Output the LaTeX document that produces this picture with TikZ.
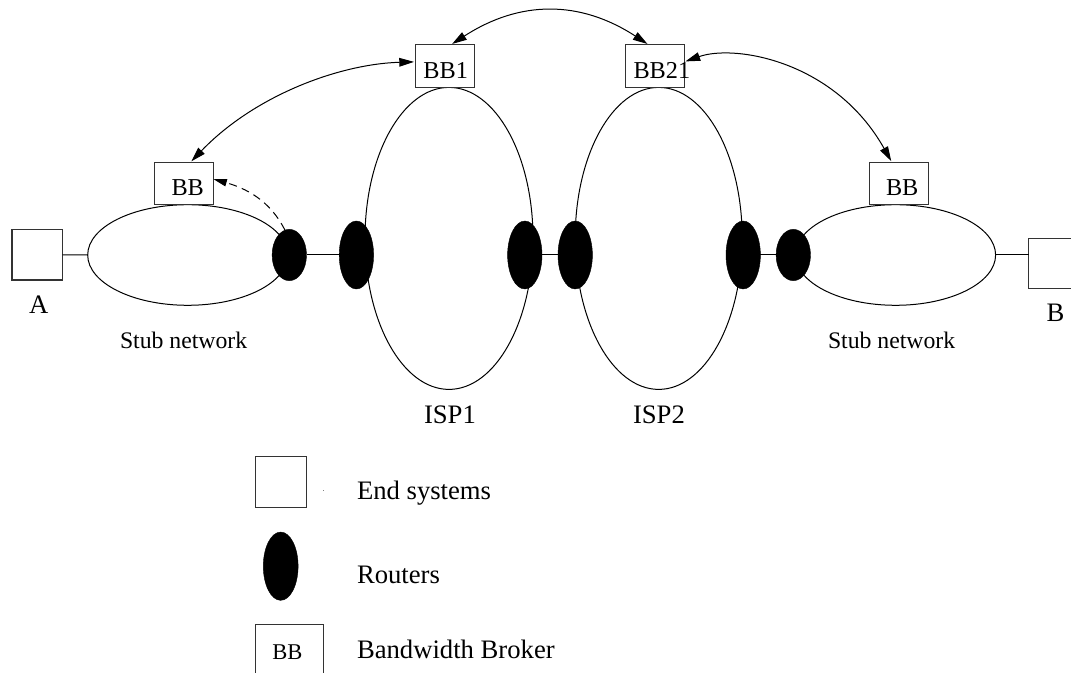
\documentclass[tikz,border=0pt]{standalone}
\usepackage{fontspec}
\setmainfont{Liberation Serif}
\usetikzlibrary{shapes.geometric,arrows.meta}
\tikzset{
  x=0.75pt,y=-0.75pt,
  every node/.style={inner sep=0pt,outer sep=0pt},
  wire/.style={line width=0.75pt,black},
  boxnode/.style={draw=black!80,line width=0.8pt,fill=white,rectangle},
  cloud/.style={draw=black,line width=0.75pt,ellipse},
  router/.style={fill=black,draw=black,line width=0.3pt,ellipse},
  lbl/.style={anchor=base west,font=\fontsize{20pt}{22pt}\selectfont},
  bbl/.style={anchor=base west,font=\fontsize{18.2pt}{20pt}\selectfont},
  stubl/.style={anchor=base west,font=\fontsize{17.8pt}{20pt}\selectfont},
  link/.style={wire,{Triangle[length=11pt,width=6.5pt]}-{Triangle[length=11pt,width=6.5pt]},shorten <=1pt,shorten >=1pt},
  signal/.style={wire,dashed,dash pattern=on 6pt off 4pt,-{Triangle[length=10pt,width=5.5pt]}},
}
\begin{document}
\begin{tikzpicture}
\useasboundingbox (0,0) rectangle (1071,673);
\clip (0,0) rectangle (1071,673);
% clouds
\node[cloud,minimum width=200*0.75pt,minimum height=100.6*0.75pt] (stubL) at (187.7,255) {};
\node[cloud,minimum width=200*0.75pt,minimum height=100.6*0.75pt] (stubR) at (895.6,255) {};
\node[cloud,minimum width=168*0.75pt,minimum height=302*0.75pt] (isp1) at (449,238.4) {};
\node[cloud,minimum width=167*0.75pt,minimum height=302*0.75pt] (isp2) at (658.7,238.4) {};
% routers
\node[router,minimum width=34.4*0.75pt,minimum height=51.4*0.75pt] (r1) at (289.3,255) {};
\node[router,minimum width=34.4*0.75pt,minimum height=68*0.75pt] (r2) at (356.4,255) {};
\node[router,minimum width=34.4*0.75pt,minimum height=68*0.75pt] (r3) at (524.8,255) {};
\node[router,minimum width=34.4*0.75pt,minimum height=68*0.75pt] (r4) at (575.2,255) {};
\node[router,minimum width=34.4*0.75pt,minimum height=68*0.75pt] (r5) at (743.2,255) {};
\node[router,minimum width=34.4*0.75pt,minimum height=51.4*0.75pt] (r6) at (793.3,255) {};
% boxes
\node[boxnode,minimum width=50.7*0.75pt,minimum height=50.5*0.75pt] (A) at (37.35,254.75) {};
\node[boxnode,minimum width=56*0.75pt,minimum height=50.4*0.75pt] (B) at (1056.6,263.5) {};
\node[boxnode,minimum width=59*0.75pt,minimum height=42*0.75pt] (bbL) at (184,183.3) {};
\node[boxnode,minimum width=59*0.75pt,minimum height=42*0.75pt] (bbR) at (898.7,183.3) {};
\node[boxnode,minimum width=59.2*0.75pt,minimum height=42.6*0.75pt] (bb1) at (444.9,66) {};
\node[boxnode,minimum width=59*0.75pt,minimum height=42.6*0.75pt] (bb21) at (654.7,66) {};
% straight connectors
\draw[wire] (A.east) -- (stubL.west);
\draw[wire] (r1.east) -- (r2.west);
\draw[wire] (r3.east) -- (r4.west);
\draw[wire] (r5.east) -- (r6.west);
\draw[wire] (stubR.east) -- (B.west |- stubR.east);
% curved connectors
\draw[link] (bb1.74) .. controls (520,0) and (580,0) .. (bb21.106);
\draw[link] (bb1.172) .. controls (340,64) and (255,95) .. (bbL.73);
\draw[link] (bb21.8) .. controls (735,44) and (835,61) .. (bbR.108);
\draw[signal] (r1.100) .. controls (270,200) and (245,188) .. (bbL.8);
% box labels
\node[bbl] at (171.5,196) {BB};
\node[bbl] at (886,196) {BB};
\node[bbl] at (423.4,79) {BB1};
\node[bbl] at (633.5,79) {BB21};
% labels
\node[lbl] at (29,314) {A};
\node[lbl] at (1046.6,322) {B};
\node[stubl] at (120,349) {Stub network};
\node[stubl] at (828,349) {Stub network};
\node[lbl] at (424,424) {ISP1};
\node[lbl] at (633,424) {ISP2};
% legend
\node[boxnode,minimum width=51*0.75pt,minimum height=51*0.75pt] (legA) at (280.8,481.8) {};
\node[router,minimum width=34.8*0.75pt,minimum height=68.3*0.75pt] (legR) at (280.7,566.2) {};
\node[boxnode,minimum width=67.7*0.75pt,minimum height=70*0.75pt] (legB) at (289.2,659.3) {};
\node[anchor=base,font=\fontsize{16.9pt}{18pt}\selectfont] at (287.3,659) {BB};
\fill[black!50] (322.5,489.8) rectangle (324,490.6);
\node[lbl] at (357,499) {End systems};
\node[lbl] at (357,583) {Routers};
\node[lbl] at (357,658) {Bandwidth Broker};
\end{tikzpicture}
\end{document}
